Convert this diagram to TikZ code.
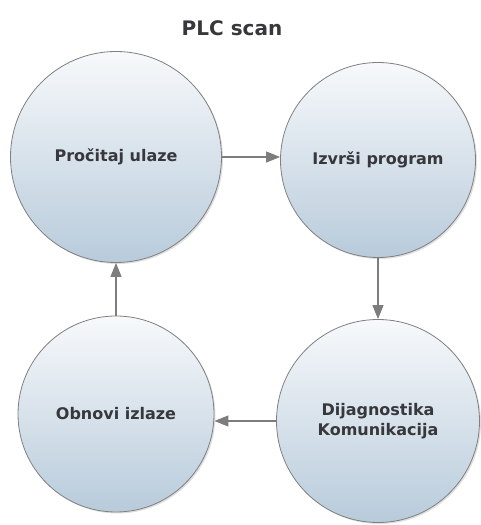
\documentclass[tikz,border=0pt]{standalone}
\usepackage{fontspec}
\setmainfont{DejaVu Sans}
\usepackage{tikz}
\usetikzlibrary{arrows.meta, positioning, shadows}
\definecolor{circletop}{RGB}{247,249,251}
\definecolor{circlebottom}{RGB}{184,203,219}
\definecolor{edgegray}{RGB}{128,128,128}
\definecolor{arrowgray}{RGB}{125,125,125}
\definecolor{textgray}{RGB}{55,55,60}

\begin{document}
\begin{tikzpicture}[
    x=1pt, y=1pt,
    stage/.style={circle, draw=edgegray, line width=0.8pt, top color=circletop, bottom color=circlebottom,
        align=center, text=textgray, font=\fontsize{16}{20}\selectfont\bfseries,
        drop shadow={opacity=0.25, shadow xshift=1.5pt, shadow yshift=-1.5pt}},
    arrow/.style={-{Triangle[length=14pt, width=11pt]}, arrowgray, line width=1.1pt}
]
    \useasboundingbox (0,0) rectangle (480,525);

    % Title
    \node[font=\fontsize{20}{24}\selectfont\bfseries, text=textgray] (title) at (232,497) {PLC scan};

    % Scan cycle stages
    \node[stage, minimum size=211pt] (read) at (116,368) {Pročitaj ulaze};
    \node[stage, minimum size=195pt] (exec) at (378,365) {Izvrši program};
    \node[stage, minimum size=203pt] (diag) at (378,104) {Dijagnostika\\Komunikacija};
    \node[stage, minimum size=196pt] (update) at (116,111) {Obnovi izlaze};

    % Arrows
    \draw[arrow] (read.east) -- (read.east -| exec.west);
    \draw[arrow] (exec) -- (diag);
    \draw[arrow] (diag.west) -- (diag.west -| update.east);
    \draw[arrow] (update) -- (read);
\end{tikzpicture}
\end{document}
